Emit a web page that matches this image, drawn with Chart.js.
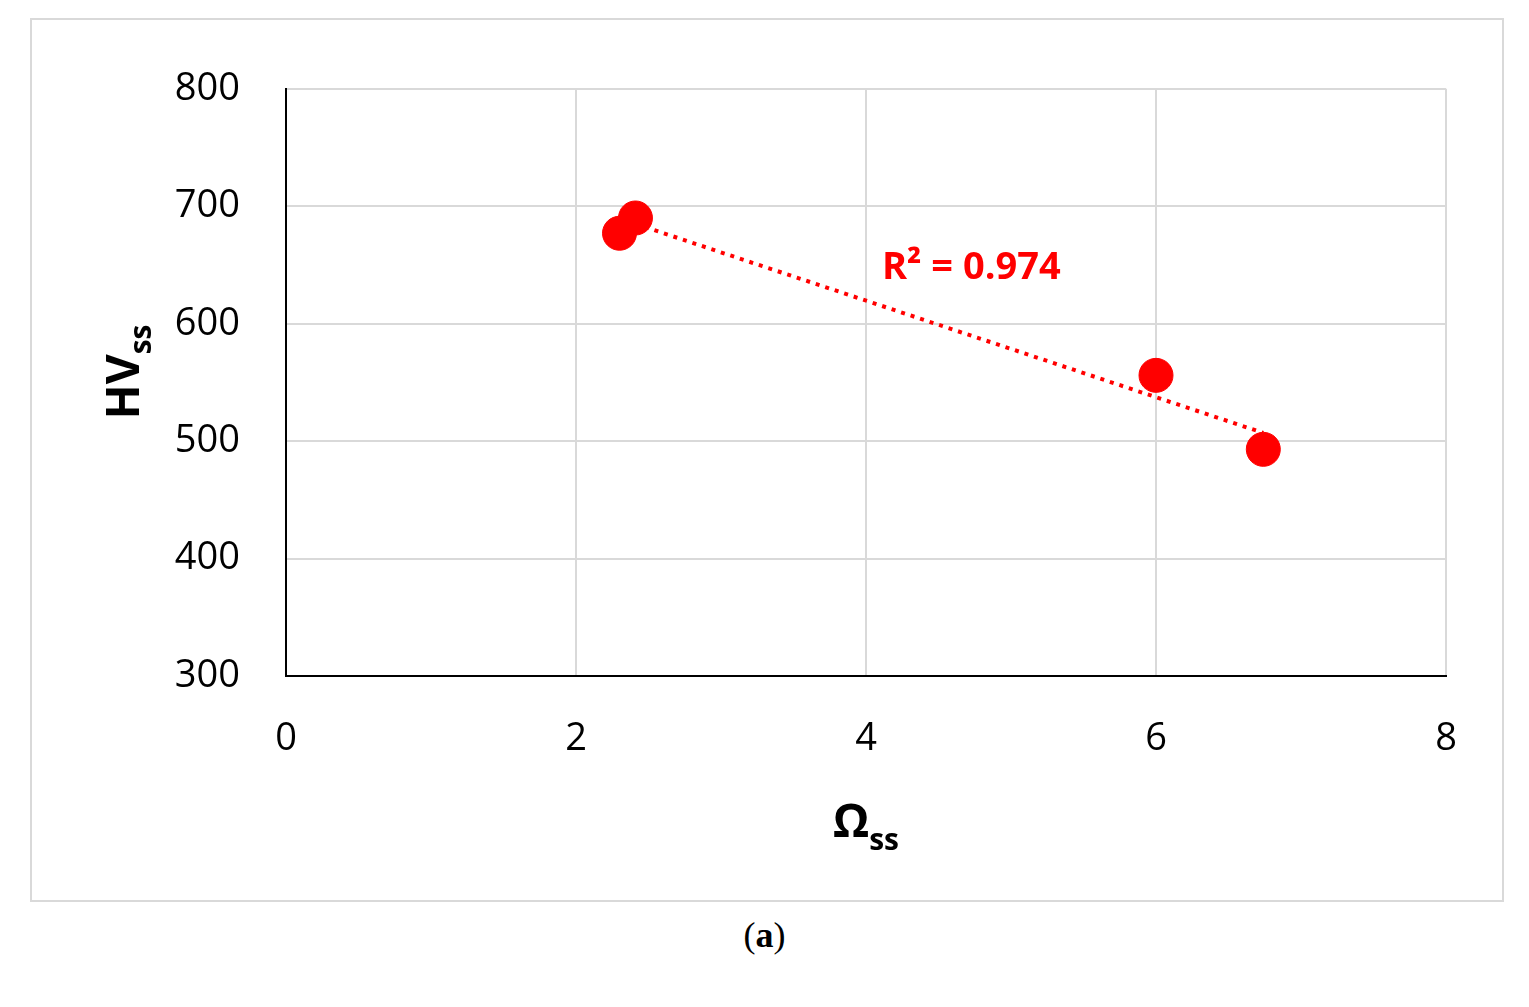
<!DOCTYPE html>
<html>
<head>
<meta charset="utf-8">
<script src="https://cdn.jsdelivr.net/npm/chart.js@4"></script>
<style>
  body { margin: 0; background: #fff; width: 1529px; height: 1007px; position: relative; font-family: "Open Sans", sans-serif; }
  #box { position: absolute; left: 30px; top: 18px; width: 1470px; height: 880px; border: 2px solid #d9d9d9; }
  #c { display: block; }
  #caption { position: absolute; top: 914px; left: 0; width: 1529px; text-align: center; font: 36px "Liberation Serif", serif; }
</style>
</head>
<body>
<div id="box"><canvas id="c" width="1470" height="880"></canvas></div>
<div id="caption">(<b>a</b>)</div>
<script>
'use strict';

const omegaValues = [2.30, 2.41, 6.00, 6.74];
const hvValues = [677, 690, 556, 493];
const trendX = [2.41, 6.74];
const trendY = [685, 507];
const xTicks = [0, 2, 4, 6, 8];
const yTicks = [300, 400, 500, 600, 700, 800];
const r2Text = 'R² = 0.974';

const red = '#ff0000';
const tickFont = { family: '"Open Sans", sans-serif', size: 38 };

const labels = {
  id: 'labels',
  afterDraw(chart) {
    const { ctx, scales: { x, y } } = chart;
    ctx.save();
    ctx.fillStyle = red;
    ctx.font = 'bold 38px "Open Sans", sans-serif';
    ctx.textBaseline = 'middle';
    ctx.fillText(r2Text, x.getPixelForValue(4.11), y.getPixelForValue(647));

    ctx.fillStyle = '#000';
    // x title
    ctx.textBaseline = 'alphabetic';
    ctx.font = 'bold 46px "Open Sans", sans-serif';
    const w1 = ctx.measureText('Ω').width;
    ctx.font = 'bold 30px "Open Sans", sans-serif';
    const w2 = ctx.measureText('ss').width;
    const sx = 864 - 30 - (w1 + w2) / 2;
    ctx.font = 'bold 46px "Open Sans", sans-serif';
    ctx.fillText('Ω', sx, 835 - 18);
    ctx.font = 'bold 30px "Open Sans", sans-serif';
    ctx.fillText('ss', sx + w1, 848 - 18);

    // y title
    ctx.translate(137 - 30, 370 - 18);
    ctx.rotate(-Math.PI / 2);
    ctx.font = 'bold 46px "Open Sans", sans-serif';
    const h1 = ctx.measureText('HV').width;
    ctx.font = 'bold 30px "Open Sans", sans-serif';
    const h2 = ctx.measureText('ss').width;
    const s0 = -(h1 + h2) / 2;
    ctx.font = 'bold 46px "Open Sans", sans-serif';
    ctx.fillText('HV', s0, 0);
    ctx.font = 'bold 30px "Open Sans", sans-serif';
    ctx.fillText('ss', s0 + h1, 12);
    ctx.restore();
  }
};

new Chart(document.getElementById('c'), {
  type: 'scatter',
  data: {
    datasets: [{
      data: omegaValues.map((v, i) => ({ x: v, y: hvValues[i] })),
      backgroundColor: red,
      borderColor: red,
      pointRadius: 17,
      order: 1
    }, {
      type: 'line',
      data: trendX.map((v, i) => ({ x: v, y: trendY[i] })),
      borderColor: red,
      borderWidth: 4,
      borderDash: [4, 6],
      pointRadius: 0,
      fill: false,
      order: 2
    }]
  },
  options: {
    responsive: false,
    animation: false,
    devicePixelRatio: 1,
    layout: { padding: { left: 0, top: 50, right: 56, bottom: 0 } },
    plugins: { legend: { display: false }, tooltip: { enabled: false } },
    scales: {
      x: {
        type: 'linear', min: 0, max: 8,
        afterBuildTicks: s => { s.ticks = xTicks.map(v => ({ value: v })); },
        afterFit: s => { s.height = 224; },
        grid: { color: '#d9d9d9', lineWidth: 2, drawTicks: false },
        border: { color: '#000', width: 2 },
        ticks: { color: '#000', font: tickFont, padding: 40 }
      },
      y: {
        type: 'linear', min: 300, max: 800,
        afterBuildTicks: s => { s.ticks = yTicks.map(v => ({ value: v })); },
        afterFit: s => { s.width = 254; },
        grid: { color: '#d9d9d9', lineWidth: 2, drawTicks: false },
        border: { color: '#000', width: 2 },
        ticks: { color: '#000', font: tickFont, padding: 46 }
      }
    }
  },
  plugins: [labels]
});
</script>
</body>
</html>
